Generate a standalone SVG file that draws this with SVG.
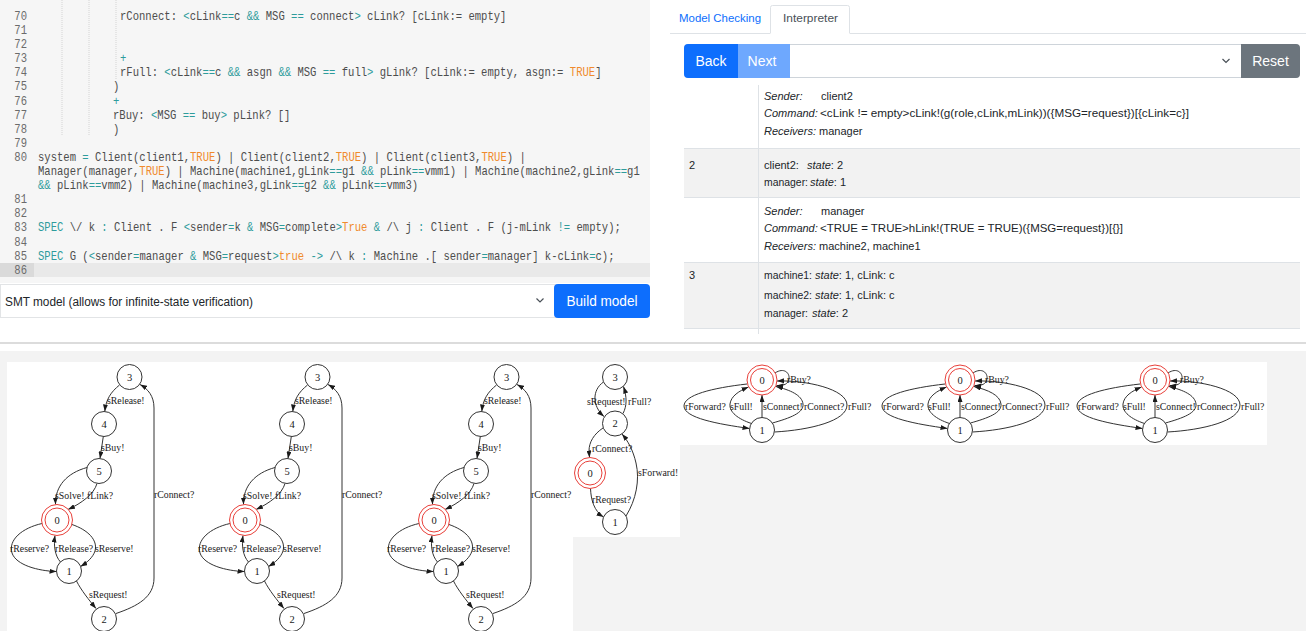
<svg xmlns="http://www.w3.org/2000/svg" width="1306" height="631" viewBox="0 0 1306 631">
<defs>
<style>
.code{font-family:"Liberation Mono","DejaVu Sans Mono",monospace;font-size:12px;fill:#4d4d4d}
.ln{fill:#6b6b6b}
.op{fill:#2e9c9c}
.lit{fill:#f08a2c}
.ui{font-family:"Liberation Sans",Arial,sans-serif;fill:#212529}
.t11{font-size:11px}
.it{font-style:italic}
.wt{fill:#ffffff}
.gl{font-family:"Liberation Serif","Times New Roman",serif;font-size:9.8px;fill:#1a1a1a}
.nl{font-family:"Liberation Serif","Times New Roman",serif;font-size:10.5px;text-anchor:middle;fill:#1a1a1a}
.nd{fill:#ffffff;stroke:#333333;stroke-width:1}
.acc{fill:none;stroke:#e8403a;stroke-width:1}
.ed{fill:none;stroke:#333333;stroke-width:1;marker-end:url(#ah)}
.guide{stroke:#d4d4d4;stroke-width:1;stroke-dasharray:1 1}
</style>
<marker id="ah" viewBox="0 0 7 5" refX="7" refY="2.5" markerWidth="7" markerHeight="5" markerUnits="userSpaceOnUse" orient="auto"><path d="M0,0 L7,2.5 L0,5 z" fill="#1a1a1a"/></marker>
</defs>
<rect width="1306" height="631" fill="#ffffff"/>

<!-- Editor -->
<g id="editor">
<rect x="0" y="0" width="650" height="283" fill="#f6f6f6"/>
<rect x="0" y="263" width="650" height="14" fill="#e9e9e9"/>
<rect x="0" y="263" width="34" height="14" fill="#dadada"/>
<line class="guide" x1="62" y1="0" x2="62" y2="135"/>
<line class="guide" x1="89" y1="0" x2="89" y2="135"/>
<line class="guide" x1="116" y1="0" x2="116" y2="80"/>
<g class="code" transform="scale(0.88,1)">
<g class="ln" text-anchor="end">
<text x="30.7" y="20">70</text><text x="30.7" y="34.1">71</text><text x="30.7" y="48.2">72</text><text x="30.7" y="62.3">73</text><text x="30.7" y="76.4">74</text><text x="30.7" y="90.5">75</text><text x="30.7" y="104.6">76</text><text x="30.7" y="118.7">77</text><text x="30.7" y="132.8">78</text><text x="30.7" y="146.9">79</text><text x="30.7" y="161">80</text><text x="30.7" y="203.3">81</text><text x="30.7" y="217.4">82</text><text x="30.7" y="231.5">83</text><text x="30.7" y="245.6">84</text><text x="30.7" y="259.7">85</text><text x="30.7" y="273.8">86</text>
</g>
<text x="136.4" y="20">rConnect: <tspan class="op">&lt;</tspan>cLink<tspan class="op">==</tspan>c <tspan class="op">&amp;&amp;</tspan> MSG <tspan class="op">==</tspan> connect<tspan class="op">&gt;</tspan> cLink? [cLink:= empty]</text>
<text x="136.4" y="62.3" class="op">+</text>
<text x="136.4" y="76.4">rFull: <tspan class="op">&lt;</tspan>cLink<tspan class="op">==</tspan>c <tspan class="op">&amp;&amp;</tspan> asgn <tspan class="op">&amp;&amp;</tspan> MSG <tspan class="op">==</tspan> full<tspan class="op">&gt;</tspan> gLink? [cLink:= empty, asgn:= <tspan class="lit">TRUE</tspan>]</text>
<text x="128.4" y="90.5">)</text>
<text x="128.4" y="104.6" class="op">+</text>
<text x="128.4" y="118.7">rBuy: <tspan class="op">&lt;</tspan>MSG <tspan class="op">==</tspan> buy<tspan class="op">&gt;</tspan> pLink? []</text>
<text x="128.4" y="132.8">)</text>
<text x="43.2" y="161">system <tspan class="op">=</tspan> Client(client1,<tspan class="lit">TRUE</tspan>) | Client(client2,<tspan class="lit">TRUE</tspan>) | Client(client3,<tspan class="lit">TRUE</tspan>) |</text>
<text x="43.2" y="175.1">Manager(manager,<tspan class="lit">TRUE</tspan>) | Machine(machine1,gLink<tspan class="op">==</tspan>g1 <tspan class="op">&amp;&amp;</tspan> pLink<tspan class="op">==</tspan>vmm1) | Machine(machine2,gLink<tspan class="op">==</tspan>g1</text>
<text x="43.2" y="189.2"><tspan class="op">&amp;&amp;</tspan> pLink<tspan class="op">==</tspan>vmm2) | Machine(machine3,gLink<tspan class="op">==</tspan>g2 <tspan class="op">&amp;&amp;</tspan> pLink<tspan class="op">==</tspan>vmm3)</text>
<text x="43.2" y="231.5"><tspan class="op">SPEC</tspan> \/ k <tspan class="op">:</tspan> Client . F <tspan class="op">&lt;</tspan>sender<tspan class="op">=</tspan>k <tspan class="op">&amp;</tspan> MSG<tspan class="op">=</tspan>complete<tspan class="op">&gt;</tspan><tspan class="lit">True</tspan> <tspan class="op">&amp;</tspan> /\ j <tspan class="op">:</tspan> Client . F (j-mLink <tspan class="op">!=</tspan> empty);</text>
<text x="43.2" y="259.7"><tspan class="op">SPEC</tspan> G (<tspan class="op">&lt;</tspan>sender<tspan class="op">=</tspan>manager <tspan class="op">&amp;</tspan> MSG<tspan class="op">=</tspan>request<tspan class="op">&gt;</tspan><tspan class="lit">true</tspan> <tspan class="op">-&gt;</tspan> /\ k <tspan class="op">:</tspan> Machine .[ sender<tspan class="op">=</tspan>manager] k-cLink<tspan class="op">=</tspan>c);</text>
</g>
</g>

<!-- Model select + build -->
<g id="build-bar">
<rect x="0.5" y="284.5" width="556" height="33" fill="#ffffff" stroke="#e2e4e6"/>
<text class="ui" x="5" y="306" font-size="12.5" textLength="248" lengthAdjust="spacingAndGlyphs">SMT model (allows for infinite-state verification)</text>
<polyline points="536.5,298.5 540,302 543.5,298.5" fill="none" stroke="#495057" stroke-width="1.2"/>
<rect x="554" y="284" width="96" height="34" rx="4" fill="#0d6efd"/>
<text class="ui wt" x="602" y="306" font-size="14.5" text-anchor="middle" textLength="71" lengthAdjust="spacingAndGlyphs">Build model</text>
</g>

<!-- Tabs -->
<g id="tabs">
<line x1="670" y1="33.5" x2="770" y2="33.5" stroke="#dee2e6"/>
<line x1="850" y1="33.5" x2="1306" y2="33.5" stroke="#dee2e6"/>
<path d="M770.5,33.5 V7.5 Q770.5,5.5 772.5,5.5 H847.5 Q849.5,5.5 849.5,7.5 V33.5" fill="#ffffff" stroke="#dee2e6"/>
<text class="ui" x="679" y="22" font-size="11.5" style="fill:#0d6efd" textLength="82" lengthAdjust="spacingAndGlyphs">Model Checking</text>
<text class="ui" x="783" y="22" font-size="11.5" style="fill:#495057" textLength="55" lengthAdjust="spacingAndGlyphs">Interpreter</text>
</g>

<!-- Toolbar -->
<g id="toolbar">
<rect x="684.5" y="44.5" width="615" height="33" rx="4" fill="#ffffff" stroke="#ced4da"/>
<path d="M688,44 H738 V78 H688 Q684,78 684,74 V48 Q684,44 688,44 Z" fill="#0d6efd"/>
<rect x="738" y="44" width="52" height="34" fill="#6ea8fe"/>
<path d="M1241,44 H1296 Q1300,44 1300,48 V74 Q1300,78 1296,78 H1241 Z" fill="#6c757d"/>
<text class="ui wt" x="711" y="66" font-size="14" text-anchor="middle">Back</text>
<text class="ui wt" x="762" y="66" font-size="14" text-anchor="middle">Next</text>
<text class="ui wt" x="1270.5" y="66" font-size="14" text-anchor="middle">Reset</text>
<polyline points="1222.5,59 1226,62.5 1229.5,59" fill="none" stroke="#495057" stroke-width="1.2"/>
</g>

<!-- Trace table -->
<g id="trace-table" class="ui t11">
<rect x="684" y="85" width="616" height="63" fill="#ffffff"/>
<rect x="684" y="148" width="616" height="49" fill="#f2f2f2"/>
<rect x="684" y="197" width="616" height="65" fill="#ffffff"/>
<rect x="684" y="262" width="616" height="66" fill="#f2f2f2"/>
<g stroke="#dee2e6" stroke-width="1">
<line x1="684" y1="148.5" x2="1300" y2="148.5"/>
<line x1="684" y1="197.5" x2="1300" y2="197.5"/>
<line x1="684" y1="262.5" x2="1300" y2="262.5"/>
<line x1="684" y1="328.5" x2="1300" y2="328.5"/>
<line x1="758.5" y1="85" x2="758.5" y2="334"/>
</g>
<text class="it" x="764" y="100">Sender:</text><text x="821" y="100">client2</text>
<text class="it" x="764" y="117">Command:</text><text x="820" y="117" textLength="369" lengthAdjust="spacingAndGlyphs">&lt;cLink != empty&gt;cLink!(g(role,cLink,mLink))({MSG=request})[{cLink=c}]</text>
<text class="it" x="764" y="135">Receivers:</text><text x="819" y="135">manager</text>
<text x="689" y="169">2</text>
<text x="764" y="169">client2:</text><text x="807" y="169"><tspan class="it">state</tspan>: 2</text>
<text x="764" y="186" textLength="44" lengthAdjust="spacingAndGlyphs">manager:</text><text x="810" y="186"><tspan class="it">state</tspan>: 1</text>
<text class="it" x="764" y="215">Sender:</text><text x="821" y="215">manager</text>
<text class="it" x="764" y="232">Command:</text><text x="820" y="232" textLength="303" lengthAdjust="spacingAndGlyphs">&lt;TRUE = TRUE&gt;hLink!(TRUE = TRUE)({MSG=request})[{}]</text>
<text class="it" x="764" y="250">Receivers:</text><text x="819" y="250">machine2, machine1</text>
<text x="689" y="279">3</text>
<text x="764" y="279" textLength="48" lengthAdjust="spacingAndGlyphs">machine1:</text><text x="815" y="279"><tspan class="it">state</tspan>: 1, cLink: c</text>
<text x="764" y="299" textLength="48" lengthAdjust="spacingAndGlyphs">machine2:</text><text x="815" y="299"><tspan class="it">state</tspan>: 1, cLink: c</text>
<text x="764" y="317" textLength="44" lengthAdjust="spacingAndGlyphs">manager:</text><text x="812" y="317"><tspan class="it">state</tspan>: 2</text>
</g>

<!-- Separator and graph area -->
<line x1="0" y1="343" x2="1306" y2="343" stroke="#dcdcdc" stroke-width="2"/>
<rect x="0" y="351" width="1306" height="280" fill="#f3f3f3"/>
<rect x="7" y="362" width="673" height="175" fill="#ffffff"/>
<rect x="7" y="537" width="566" height="94" fill="#ffffff"/>
<rect x="680" y="362" width="587" height="83" fill="#ffffff"/>

<!-- Graph 1 -->
<g id="graph1">
<g id="g1-edges">
<path class="ed" d="M119.5,385 C111,392 106,399 104.8,411.5"/>
<path class="ed" d="M103.3,436.5 L100,458.5"/>
<path class="ed" d="M87,467.5 C67,473 55,486 55.5,504.5"/>
<path class="ed" d="M97,483.5 C94,494 82,503 68,509.5"/>
<path class="ed" d="M42,523.5 C22,528 8,540 12,553 C16,565 38,571 56.5,571.5"/>
<path class="ed" d="M60.5,562 C55,556 53.5,546 55,535.4"/>
<path class="ed" d="M72,524.5 C88,530 98,540 95,551 C93,557 88,562 80.5,566.5"/>
<path class="ed" d="M76.5,581 C81,590 89,600 96,608.5"/>
<path class="ed" d="M116,613.5 C138,606 154,597 154,578 L154,408 C154,396 148,389 140,384.5"/>
<text class="gl" x="107" y="403.5">sRelease!</text>
<text class="gl" x="101" y="450.5">sBuy!</text>
<text class="gl" x="55" y="499">sSolve!</text>
<text class="gl" x="87" y="499">fLink?</text>
<text class="gl" x="10" y="551.5">rReserve?</text>
<text class="gl" x="55" y="551.5">rRelease?</text>
<text class="gl" x="95" y="551.5">sReserve!</text>
<text class="gl" x="89" y="597.5">sRequest!</text>
<text class="gl" x="154" y="498">rConnect?</text>
</g>
<g id="g1-n3"><circle class="nd" cx="129.5" cy="377" r="12.5"/><text class="nl" x="129.5" y="380.5">3</text></g>
<g id="g1-n4"><circle class="nd" cx="104" cy="424" r="12.5"/><text class="nl" x="104" y="427.5">4</text></g>
<g id="g1-n5"><circle class="nd" cx="99" cy="471" r="12.5"/><text class="nl" x="99" y="474.5">5</text></g>
<g id="g1-n0"><circle cx="57" cy="520" r="15.5" fill="#fff"/><circle class="acc" cx="57" cy="520" r="15.5"/><circle class="acc" cx="57" cy="520" r="12"/><text class="nl" x="57" y="523.5">0</text></g>
<g id="g1-n1"><circle class="nd" cx="69" cy="571" r="12.5"/><text class="nl" x="69" y="574.5">1</text></g>
<g id="g1-n2"><circle class="nd" cx="104" cy="619" r="12.5"/><text class="nl" x="104" y="622.5">2</text></g>
</g>

<!-- Graph 2 -->
<g id="graph2" transform="translate(188,0)">
<g id="g2-edges">
<path class="ed" d="M119.5,385 C111,392 106,399 104.8,411.5"/>
<path class="ed" d="M103.3,436.5 L100,458.5"/>
<path class="ed" d="M87,467.5 C67,473 55,486 55.5,504.5"/>
<path class="ed" d="M97,483.5 C94,494 82,503 68,509.5"/>
<path class="ed" d="M42,523.5 C22,528 8,540 12,553 C16,565 38,571 56.5,571.5"/>
<path class="ed" d="M60.5,562 C55,556 53.5,546 55,535.4"/>
<path class="ed" d="M72,524.5 C88,530 98,540 95,551 C93,557 88,562 80.5,566.5"/>
<path class="ed" d="M76.5,581 C81,590 89,600 96,608.5"/>
<path class="ed" d="M116,613.5 C138,606 154,597 154,578 L154,408 C154,396 148,389 140,384.5"/>
<text class="gl" x="107" y="403.5">sRelease!</text>
<text class="gl" x="101" y="450.5">sBuy!</text>
<text class="gl" x="55" y="499">sSolve!</text>
<text class="gl" x="87" y="499">fLink?</text>
<text class="gl" x="10" y="551.5">rReserve?</text>
<text class="gl" x="55" y="551.5">rRelease?</text>
<text class="gl" x="95" y="551.5">sReserve!</text>
<text class="gl" x="89" y="597.5">sRequest!</text>
<text class="gl" x="154" y="498">rConnect?</text>
</g>
<g id="g2-n3"><circle class="nd" cx="129.5" cy="377" r="12.5"/><text class="nl" x="129.5" y="380.5">3</text></g>
<g id="g2-n4"><circle class="nd" cx="104" cy="424" r="12.5"/><text class="nl" x="104" y="427.5">4</text></g>
<g id="g2-n5"><circle class="nd" cx="99" cy="471" r="12.5"/><text class="nl" x="99" y="474.5">5</text></g>
<g id="g2-n0"><circle cx="57" cy="520" r="15.5" fill="#fff"/><circle class="acc" cx="57" cy="520" r="15.5"/><circle class="acc" cx="57" cy="520" r="12"/><text class="nl" x="57" y="523.5">0</text></g>
<g id="g2-n1"><circle class="nd" cx="69" cy="571" r="12.5"/><text class="nl" x="69" y="574.5">1</text></g>
<g id="g2-n2"><circle class="nd" cx="104" cy="619" r="12.5"/><text class="nl" x="104" y="622.5">2</text></g>
</g>

<!-- Graph 3 -->
<g id="graph3" transform="translate(377,0)">
<g id="g3-edges">
<path class="ed" d="M119.5,385 C111,392 106,399 104.8,411.5"/>
<path class="ed" d="M103.3,436.5 L100,458.5"/>
<path class="ed" d="M87,467.5 C67,473 55,486 55.5,504.5"/>
<path class="ed" d="M97,483.5 C94,494 82,503 68,509.5"/>
<path class="ed" d="M42,523.5 C22,528 8,540 12,553 C16,565 38,571 56.5,571.5"/>
<path class="ed" d="M60.5,562 C55,556 53.5,546 55,535.4"/>
<path class="ed" d="M72,524.5 C88,530 98,540 95,551 C93,557 88,562 80.5,566.5"/>
<path class="ed" d="M76.5,581 C81,590 89,600 96,608.5"/>
<path class="ed" d="M116,613.5 C138,606 154,597 154,578 L154,408 C154,396 148,389 140,384.5"/>
<text class="gl" x="107" y="403.5">sRelease!</text>
<text class="gl" x="101" y="450.5">sBuy!</text>
<text class="gl" x="55" y="499">sSolve!</text>
<text class="gl" x="87" y="499">fLink?</text>
<text class="gl" x="10" y="551.5">rReserve?</text>
<text class="gl" x="55" y="551.5">rRelease?</text>
<text class="gl" x="95" y="551.5">sReserve!</text>
<text class="gl" x="89" y="597.5">sRequest!</text>
<text class="gl" x="154" y="498">rConnect?</text>
</g>
<g id="g3-n3"><circle class="nd" cx="129.5" cy="377" r="12.5"/><text class="nl" x="129.5" y="380.5">3</text></g>
<g id="g3-n4"><circle class="nd" cx="104" cy="424" r="12.5"/><text class="nl" x="104" y="427.5">4</text></g>
<g id="g3-n5"><circle class="nd" cx="99" cy="471" r="12.5"/><text class="nl" x="99" y="474.5">5</text></g>
<g id="g3-n0"><circle cx="57" cy="520" r="15.5" fill="#fff"/><circle class="acc" cx="57" cy="520" r="15.5"/><circle class="acc" cx="57" cy="520" r="12"/><text class="nl" x="57" y="523.5">0</text></g>
<g id="g3-n1"><circle class="nd" cx="69" cy="571" r="12.5"/><text class="nl" x="69" y="574.5">1</text></g>
<g id="g3-n2"><circle class="nd" cx="104" cy="619" r="12.5"/><text class="nl" x="104" y="622.5">2</text></g>
</g>

<!-- Graph 4 -->
<g id="graph4">
<g id="g4-edges">
<path class="ed" d="M603.5,382 C592,390 592,406 604,416.5"/>
<path class="ed" d="M623,413.5 C627,406 627,397 623.5,386.5"/>
<path class="ed" d="M603,428 C594,434 589,442 589,451 L589.5,457.5"/>
<path class="ed" d="M590.5,488.5 C591,500 594,511 603.5,517"/>
<path class="ed" d="M626,516 C636,500 640,480 636,463 C633,450 628,441 622,434"/>
<text class="gl" x="587" y="405">sRequest!</text>
<text class="gl" x="628" y="405">rFull?</text>
<text class="gl" x="592" y="451.5">rConnect?</text>
<text class="gl" x="592" y="503">rRequest?</text>
<text class="gl" x="638" y="476">sForward!</text>
</g>
<g id="g4-n3"><circle class="nd" cx="615" cy="377" r="12.5"/><text class="nl" x="615" y="380.5">3</text></g>
<g id="g4-n2"><circle class="nd" cx="615" cy="423.5" r="12.5"/><text class="nl" x="615" y="427">2</text></g>
<g id="g4-n0"><circle cx="590" cy="473" r="15.5" fill="#fff"/><circle class="acc" cx="590" cy="473" r="15.5"/><circle class="acc" cx="590" cy="473" r="12"/><text class="nl" x="590" y="476.5">0</text></g>
<g id="g4-n1"><circle class="nd" cx="615" cy="522" r="12.5"/><text class="nl" x="615" y="525.5">1</text></g>
</g>

<!-- Graph 5 -->
<g id="graph5">
<g id="g5-edges">
<path class="ed" d="M775,373 C784,367 790,373 789,379 C788,384 784,386 776.5,385.5"/>
<path class="ed" d="M747,384 C712,388 684,395 684,406 C684,418 718,424 749.5,428.5"/>
<path class="ed" d="M751.5,423.5 C738,419 729,412 730,404 C731,396 739,391 748.5,387"/>
<path class="ed" d="M762,417.5 L762,395"/>
<path class="ed" d="M772.5,423 C790,418 804,413 803,404 C802,395 790,390 776,386.5"/>
<path class="ed" d="M774.5,432 C810,430 847,421 847,405 C847,389 806,380 777,381"/>
<text class="gl" x="787" y="383">rBuy?</text>
<text class="gl" x="685" y="410">rForward?</text>
<text class="gl" x="730" y="410">sFull!</text>
<text class="gl" x="763" y="410">sConnect!</text>
<text class="gl" x="804" y="410">rConnect?</text>
<text class="gl" x="848" y="410">rFull?</text>
</g>
<g id="g5-n0"><circle cx="762" cy="380" r="15" fill="#fff"/><circle class="acc" cx="762" cy="380" r="15"/><circle class="acc" cx="762" cy="380" r="11.5"/><text class="nl" x="762" y="383.5">0</text></g>
<g id="g5-n1"><circle class="nd" cx="762" cy="430" r="12.5"/><text class="nl" x="762" y="433.5">1</text></g>
</g>

<!-- Graph 6 -->
<g id="graph6" transform="translate(198,0)">
<g id="g6-edges">
<path class="ed" d="M775,373 C784,367 790,373 789,379 C788,384 784,386 776.5,385.5"/>
<path class="ed" d="M747,384 C712,388 684,395 684,406 C684,418 718,424 749.5,428.5"/>
<path class="ed" d="M751.5,423.5 C738,419 729,412 730,404 C731,396 739,391 748.5,387"/>
<path class="ed" d="M762,417.5 L762,395"/>
<path class="ed" d="M772.5,423 C790,418 804,413 803,404 C802,395 790,390 776,386.5"/>
<path class="ed" d="M774.5,432 C810,430 847,421 847,405 C847,389 806,380 777,381"/>
<text class="gl" x="787" y="383">rBuy?</text>
<text class="gl" x="685" y="410">rForward?</text>
<text class="gl" x="730" y="410">sFull!</text>
<text class="gl" x="763" y="410">sConnect!</text>
<text class="gl" x="804" y="410">rConnect?</text>
<text class="gl" x="848" y="410">rFull?</text>
</g>
<g id="g6-n0"><circle cx="762" cy="380" r="15" fill="#fff"/><circle class="acc" cx="762" cy="380" r="15"/><circle class="acc" cx="762" cy="380" r="11.5"/><text class="nl" x="762" y="383.5">0</text></g>
<g id="g6-n1"><circle class="nd" cx="762" cy="430" r="12.5"/><text class="nl" x="762" y="433.5">1</text></g>
</g>

<!-- Graph 7 -->
<g id="graph7" transform="translate(393,0)">
<g id="g7-edges">
<path class="ed" d="M775,373 C784,367 790,373 789,379 C788,384 784,386 776.5,385.5"/>
<path class="ed" d="M747,384 C712,388 684,395 684,406 C684,418 718,424 749.5,428.5"/>
<path class="ed" d="M751.5,423.5 C738,419 729,412 730,404 C731,396 739,391 748.5,387"/>
<path class="ed" d="M762,417.5 L762,395"/>
<path class="ed" d="M772.5,423 C790,418 804,413 803,404 C802,395 790,390 776,386.5"/>
<path class="ed" d="M774.5,432 C810,430 847,421 847,405 C847,389 806,380 777,381"/>
<text class="gl" x="787" y="383">rBuy?</text>
<text class="gl" x="685" y="410">rForward?</text>
<text class="gl" x="730" y="410">sFull!</text>
<text class="gl" x="763" y="410">sConnect!</text>
<text class="gl" x="804" y="410">rConnect?</text>
<text class="gl" x="848" y="410">rFull?</text>
</g>
<g id="g7-n0"><circle cx="762" cy="380" r="15" fill="#fff"/><circle class="acc" cx="762" cy="380" r="15"/><circle class="acc" cx="762" cy="380" r="11.5"/><text class="nl" x="762" y="383.5">0</text></g>
<g id="g7-n1"><circle class="nd" cx="762" cy="430" r="12.5"/><text class="nl" x="762" y="433.5">1</text></g>
</g>
</svg>
